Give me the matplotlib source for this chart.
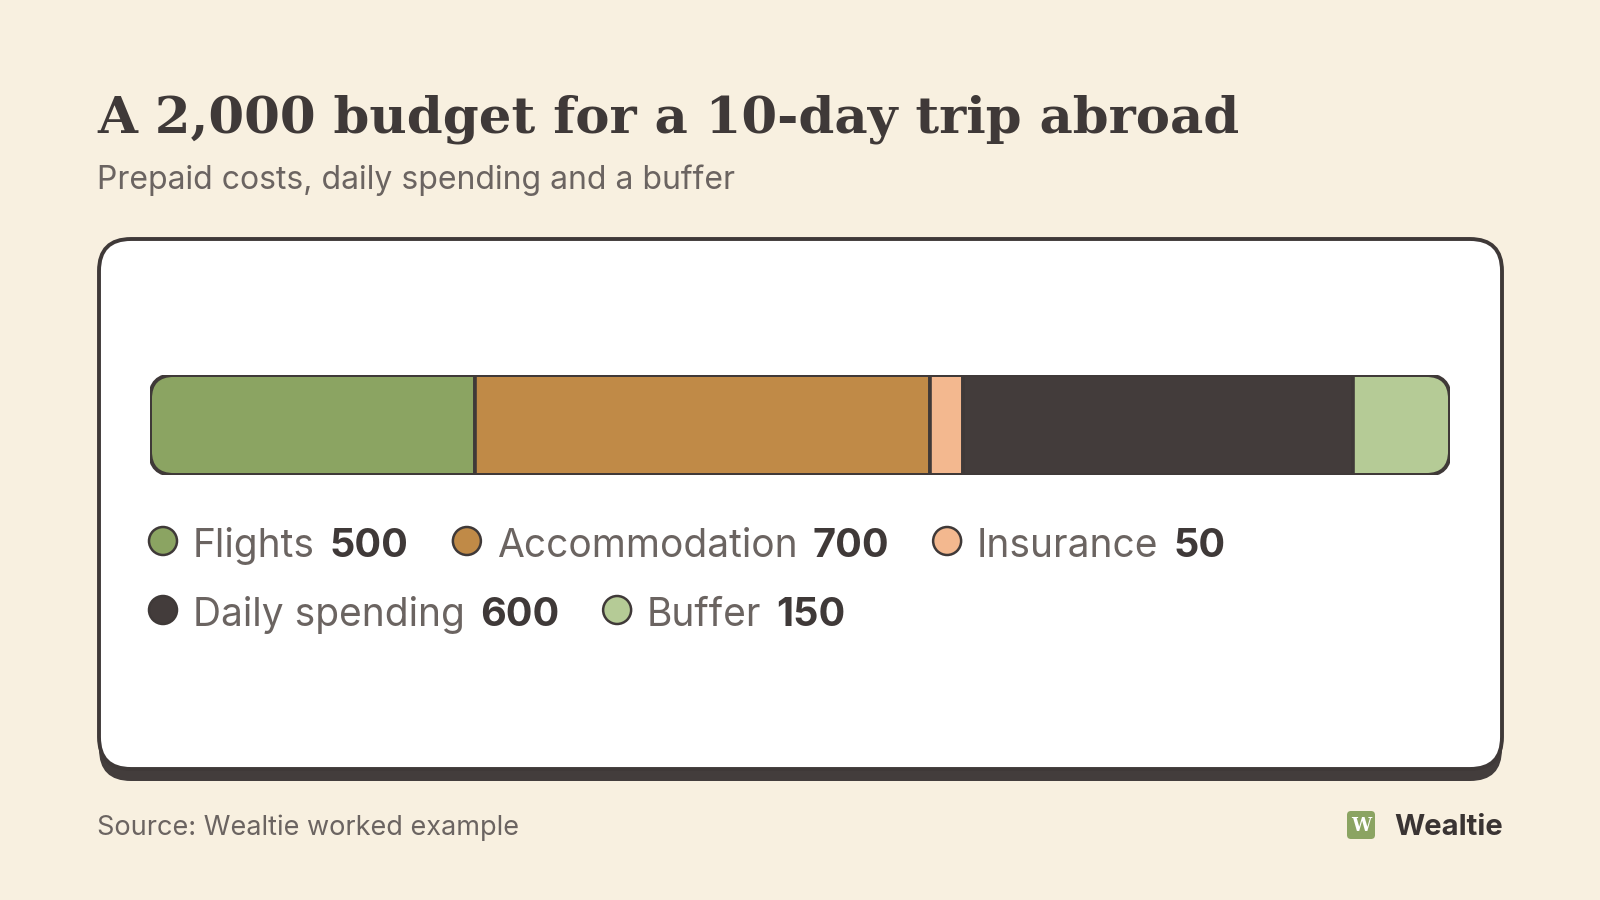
import matplotlib
matplotlib.use("Agg")
import matplotlib.pyplot as plt
from matplotlib.patches import FancyBboxPatch, Circle
import numpy as np

# data
categories = ["Flights", "Accommodation", "Insurance", "Daily spending", "Buffer"]
amounts = [500, 700, 50, 600, 150]
colors = ["#8ba462", "#c08a47", "#f3b88f", "#433c3b", "#b5cb96"]
legend_rows = [[0, 1, 2], [3, 4]]

title = "A 2,000 budget for a 10-day trip abroad"
subtitle = "Prepaid costs, daily spending and a buffer"
source = "Source: Wealtie worked example"

BG = "#f8f0e0"
DARK = "#3f3938"
GREY = "#6b6461"
SANS = ["Inter", "DejaVu Sans"]

fig = plt.figure(figsize=(16, 9), dpi=100, facecolor=BG)
# pixel canvas for the decoration
bg = fig.add_axes([0, 0, 1, 1])
bg.set_xlim(0, 1600)
bg.set_ylim(900, 0)
bg.axis("off")

# titles
bg.text(97, 133, title, fontsize=37, fontweight="bold", family=["DejaVu Serif"],
        color=DARK, va="baseline", ha="left")
bg.text(97, 189, subtitle, fontsize=23, family=SANS, color=GREY,
        va="baseline", ha="left")

# card with shadow
shadow = FancyBboxPatch((99, 251), 1403, 530, boxstyle="round,pad=0,rounding_size=32",
                        facecolor="#433d3c", edgecolor="none", zorder=1)
card = FancyBboxPatch((99, 239), 1403, 530, boxstyle="round,pad=0,rounding_size=32",
                      facecolor="white", edgecolor=DARK, linewidth=2.8, zorder=2)
bg.add_patch(shadow)
bg.add_patch(card)

# stacked bar
bx0, by0, bw, bh = 150, 375, 1300, 100
bar_ax = fig.add_axes([bx0 / 1600, 1 - (by0 + bh) / 900, bw / 1600, bh / 900])
bar_ax.set_zorder(3)
bar_ax.patch.set_alpha(0)
total = sum(amounts)
lefts = np.concatenate([[0], np.cumsum(amounts)[:-1]])
clip = FancyBboxPatch((bx0, by0), bw, bh, boxstyle="round,pad=0,rounding_size=24",
                      transform=bg.transData, facecolor="none", edgecolor="none")
bars = bar_ax.barh(0, amounts, left=lefts, height=1.0, color=colors,
                   edgecolor=DARK, linewidth=2.6)
for b in bars:
    b.set_clip_path(clip)
bar_ax.set_xlim(0, total)
bar_ax.set_ylim(-0.5, 0.5)
bar_ax.axis("off")
outline = FancyBboxPatch((bx0, by0), bw, bh, boxstyle="round,pad=0,rounding_size=24",
                         transform=bg.transData, facecolor="none", edgecolor=DARK,
                         linewidth=2.8, zorder=5)
bar_ax.add_patch(outline)

# legend, laid out left to right
fig.canvas.draw()
renderer = fig.canvas.get_renderer()


def text_width(t):
    bb = t.get_window_extent(renderer=renderer)
    return bb.width


row_base = [557, 626]
for r, row in enumerate(legend_rows):
    x = 163
    yb = row_base[r]
    yc = yb - 16
    for i in row:
        bg.add_patch(Circle((x, yc), 14, facecolor=colors[i], edgecolor=DARK,
                            linewidth=1.8, zorder=4))
        x += 15 + 15
        t1 = bg.text(x, yb, categories[i], fontsize=28, family=SANS,
                     color=GREY, va="baseline", ha="left", zorder=4)
        x += text_width(t1) + 15
        t2 = bg.text(x, yb, f"{amounts[i]}", fontsize=28.5, fontweight="bold", family=SANS,
                     color=DARK, va="baseline", ha="left", zorder=4)
        x += text_width(t2) + 43 + 15

# footer
bg.text(97, 835, source, fontsize=19.5, family=SANS, color=GREY,
        va="baseline", ha="left")
logo = FancyBboxPatch((1347, 811), 28, 28, boxstyle="round,pad=0,rounding_size=4",
                      facecolor="#8ba462", edgecolor="none")
bg.add_patch(logo)
bg.text(1361, 826, "W", fontsize=13, fontweight="bold", family=["DejaVu Serif"],
        color="white", ha="center", va="center")
bg.text(1503, 835, "Wealtie", fontsize=21, fontweight="bold", family=SANS, color="#3a3433",
        va="baseline", ha="right")

fig.savefig("out.png", dpi=100, facecolor=BG)
